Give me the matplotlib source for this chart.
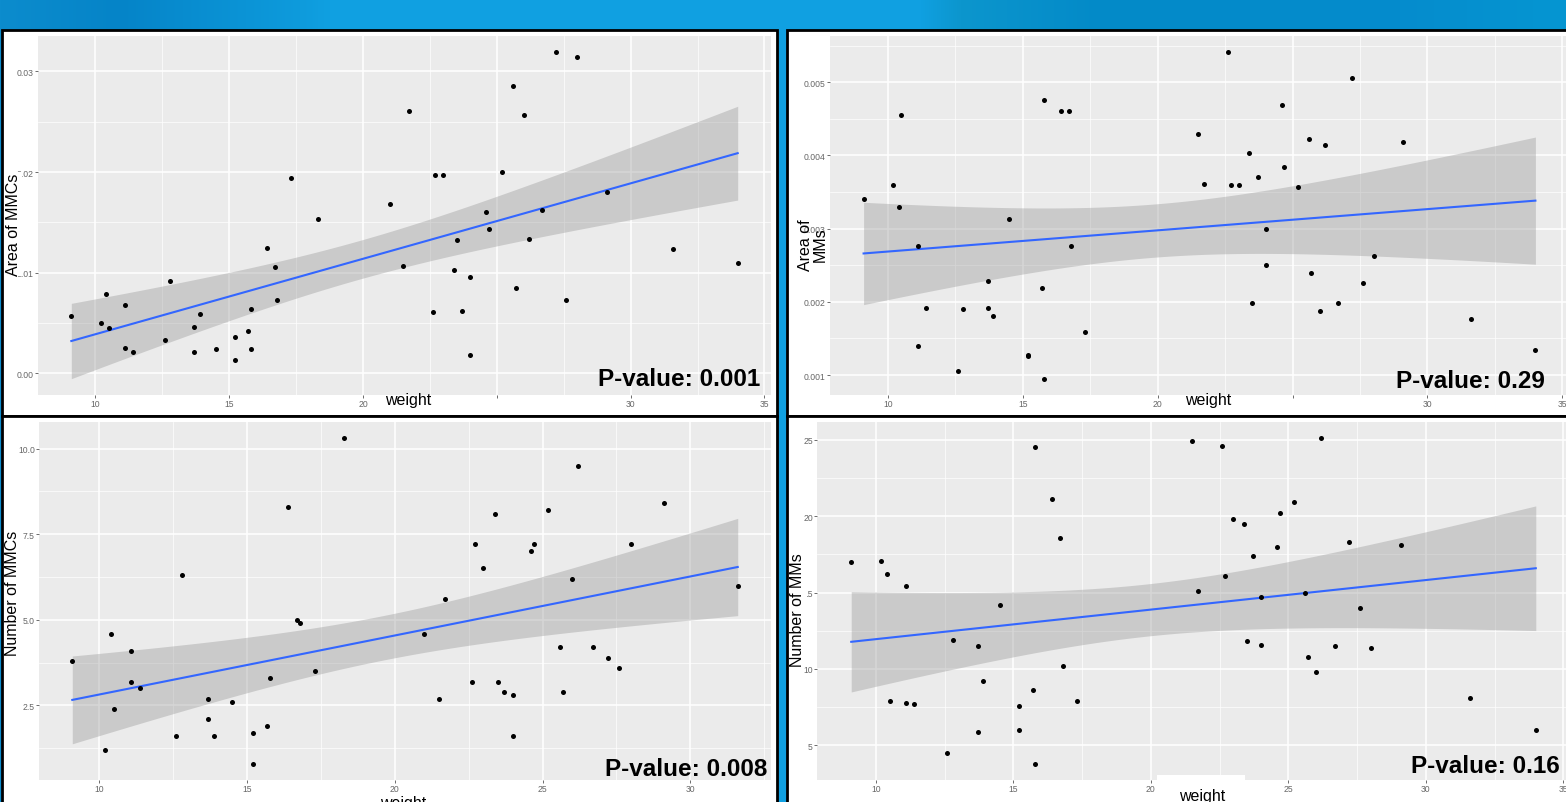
import matplotlib
matplotlib.use("Agg")
import matplotlib.pyplot as plt
from matplotlib.patches import Rectangle
from matplotlib.ticker import MultipleLocator, FormatStrFormatter
import numpy as np

plt.rcParams['font.family'] = ['Liberation Sans', 'DejaVu Sans']

# ---- data ----
weight_area_mmc = [9.1, 10.4, 10.2, 10.5, 11.1, 11.1, 11.4, 12.6, 12.8, 13.7, 13.7, 13.9, 14.5, 15.2, 15.2, 15.7,
                   15.8, 15.8, 16.4, 16.7, 16.8, 17.3, 18.3, 21.0, 21.5, 21.7, 22.6, 22.7, 23.0, 23.4, 23.5, 23.7,
                   24.0, 24.0, 24.6, 24.7, 25.2, 25.6, 25.7, 26.0, 26.2, 26.7, 27.2, 27.6, 28.0, 29.1, 31.6, 34.0]
area_mmc = [0.0057, 0.0079, 0.0050, 0.0045, 0.0068, 0.0025, 0.0021, 0.0033, 0.0092, 0.0046, 0.0021, 0.0059,
            0.0024, 0.0036, 0.0013, 0.0042, 0.0064, 0.0024, 0.0124, 0.0106, 0.0073, 0.0194, 0.0153, 0.0168,
            0.0107, 0.0261, 0.0061, 0.0197, 0.0197, 0.0103, 0.0132, 0.0062, 0.0096, 0.0018, 0.0160, 0.0143,
            0.0200, 0.0286, 0.0085, 0.0257, 0.0133, 0.0162, 0.0319, 0.0073, 0.0314, 0.0180, 0.0123, 0.0110]

weight_area_mm = [9.1, 10.2, 10.4, 10.5, 11.1, 11.1, 11.4, 12.6, 12.8, 13.7, 13.7, 13.9, 14.5, 15.2, 15.2, 15.7,
                  15.8, 15.8, 16.4, 16.7, 16.8, 17.3, 21.5, 21.7, 22.6, 22.7, 23.0, 23.4, 23.5, 23.7, 24.0, 24.0,
                  24.6, 24.7, 25.2, 25.6, 25.7, 26.0, 26.2, 26.7, 27.2, 27.6, 28.0, 29.1, 31.6, 34.0]
area_mm = [0.00341, 0.00360, 0.00330, 0.00455, 0.00277, 0.00139, 0.00191, 0.00105, 0.00190, 0.00229, 0.00191,
           0.00181, 0.00313, 0.00128, 0.00126, 0.00219, 0.00476, 0.00095, 0.00461, 0.00461, 0.00276, 0.00159,
           0.00430, 0.00361, 0.00541, 0.00360, 0.00360, 0.00404, 0.00198, 0.00371, 0.00300, 0.00250, 0.00469,
           0.00384, 0.00357, 0.00422, 0.00240, 0.00188, 0.00414, 0.00198, 0.00506, 0.00226, 0.00262, 0.00418,
           0.00177, 0.00134]

weight_num_mmc = [9.1, 10.2, 10.4, 10.5, 11.1, 11.1, 11.4, 12.6, 12.8, 13.7, 13.7, 13.9, 14.5, 15.2, 15.2, 15.7,
                  15.8, 16.4, 16.7, 16.8, 17.3, 18.3, 21.0, 21.5, 21.7, 22.6, 22.7, 23.0, 23.4, 23.5, 23.7, 24.0,
                  24.0, 24.6, 24.7, 25.2, 25.6, 25.7, 26.0, 26.2, 26.7, 27.2, 27.6, 28.0, 29.1, 31.6]
num_mmc = [3.8, 1.2, 4.6, 2.4, 4.1, 3.2, 3.0, 1.6, 6.3, 2.7, 2.1, 1.6, 2.6, 1.7, 0.8, 1.9, 3.3, 8.3, 5.0, 4.9,
           3.5, 10.3, 4.6, 2.7, 5.6, 3.2, 7.2, 6.5, 8.1, 3.2, 2.9, 2.8, 1.6, 7.0, 7.2, 8.2, 4.2, 2.9, 6.2, 9.5,
           4.2, 3.9, 3.6, 7.2, 8.4, 6.0]

weight_num_mm = [9.1, 10.2, 10.4, 10.5, 11.1, 11.1, 11.4, 12.6, 12.8, 13.7, 13.7, 13.9, 14.5, 15.2, 15.2, 15.7,
                 15.8, 15.8, 16.4, 16.7, 16.8, 17.3, 21.5, 21.7, 22.6, 22.7, 23.0, 23.4, 23.5, 23.7, 24.0, 24.0,
                 24.6, 24.7, 25.2, 25.6, 25.7, 26.0, 26.2, 26.7, 27.2, 27.6, 28.0, 29.1, 31.6, 34.0]
num_mm = [17.0, 17.1, 16.2, 7.9, 15.4, 7.8, 7.7, 4.5, 11.9, 11.5, 5.9, 9.2, 14.2, 7.6, 6.0, 8.6, 24.5, 3.8,
          21.1, 18.6, 10.2, 7.9, 24.9, 15.1, 24.6, 16.1, 19.8, 19.5, 11.8, 17.4, 14.7, 11.6, 18.0, 20.2, 20.9,
          15.0, 10.8, 9.8, 25.1, 11.5, 18.3, 14.0, 11.4, 18.1, 8.1, 6.0]

y_labels = ['Area of MMCs', 'Area of\nMMs', 'Number of MMCs', 'Number of MMs']
p_labels = ['P-value: 0.001', 'P-value: 0.29', 'P-value: 0.008', 'P-value: 0.16']

W, H = 1566, 803
fig = plt.figure(figsize=(W / 100, H / 100), dpi=100)


def frac(x0, y0, x1, y1):
    # pixel box (top-left origin) -> figure fraction rect
    return [x0 / W, 1 - y1 / H, (x1 - x0) / W, (y1 - y0) / H]


def px_rect(x0, y0, x1, y1, fc, ec='none', lw=0, z=-5):
    l, b, w, h = frac(x0, y0, x1, y1)
    fig.add_artist(Rectangle((l, b), w, h, transform=fig.transFigure, facecolor=fc,
                             edgecolor=ec, linewidth=lw, zorder=z))


# blue slide background
bg = fig.add_axes([0, 0, 1, 1], zorder=-20)
anchors_x = [0, 120, 300, 330, 920, 960, 1100, 1400, 1566]
anchors_c = np.array([(12, 140, 205), (5, 132, 200), (14, 155, 220), (16, 160, 225), (16, 160, 225),
                      (12, 150, 205), (3, 138, 200), (5, 140, 205), (5, 150, 210)]) / 255
cols = np.arange(W)
grad = np.stack([np.interp(cols, anchors_x, anchors_c[:, k]) for k in range(3)], axis=-1)
bg.imshow(grad[None, :, :], aspect='auto', extent=[0, 1, 0, 1])
bg.axis('off')

# white panel frames
px_rect(2, 31, 777, 417, 'white', 'black', 2)
px_rect(787, 31, 1572, 417, 'white', 'black', 2)
px_rect(2, 417, 777, 806, 'white', 'black', 2)
px_rect(787, 417, 1572, 806, 'white', 'black', 2)


def t975(df):
    z = 1.959964
    return z + (z ** 3 + z) / (4 * df) + (5 * z ** 5 + 16 * z ** 3 + 3 * z) / (96 * df ** 2)


def smooth_panel(ax, x, y, ystep, yfmt, xstep=5):
    x = np.asarray(x, float)
    y = np.asarray(y, float)
    n = len(x)
    slope, icpt = np.polyfit(x, y, 1)
    resid = y - (icpt + slope * x)
    s = np.sqrt(np.sum(resid ** 2) / (n - 2))
    xs = np.linspace(x.min(), x.max(), 80)
    fit = icpt + slope * xs
    se = s * np.sqrt(1 / n + (xs - x.mean()) ** 2 / np.sum((x - x.mean()) ** 2))
    t = t975(n - 2)
    ax.set_facecolor('#EBEBEB')
    ax.fill_between(xs, fit - t * se, fit + t * se, color='#999999', alpha=0.4, lw=0, zorder=2)
    ax.plot(xs, fit, color='#3366FF', lw=1.5, zorder=3)
    ax.scatter(x, y, s=13, color='black', linewidths=0, zorder=4)
    ax.margins(0.05)
    ax.xaxis.set_major_locator(MultipleLocator(xstep))
    ax.xaxis.set_minor_locator(MultipleLocator(xstep / 2))
    ax.yaxis.set_major_locator(MultipleLocator(ystep))
    ax.yaxis.set_minor_locator(MultipleLocator(ystep / 2))
    ax.xaxis.set_major_formatter(FormatStrFormatter('%d'))
    ax.yaxis.set_major_formatter(FormatStrFormatter(yfmt))
    ax.grid(which='major', color='white', lw=1.1, zorder=0)
    ax.grid(which='minor', color='white', lw=0.5, zorder=0)
    ax.set_axisbelow(True)
    for sp in ax.spines.values():
        sp.set_visible(False)
    ax.tick_params(which='major', length=2, width=0.5, color='#333333', labelsize=6.2,
                   labelcolor='#666666', pad=1)
    ax.tick_params(which='minor', length=0)


ax_tl = fig.add_axes(frac(38, 37, 771, 396))
smooth_panel(ax_tl, weight_area_mmc, area_mmc, 0.01, '%.2f')
ax_tr = fig.add_axes(frac(830, 37, 1569, 396))
smooth_panel(ax_tr, weight_area_mm, area_mm, 0.001, '%.3f')
ax_bl = fig.add_axes(frac(39, 423, 771, 781))
smooth_panel(ax_bl, weight_num_mmc, num_mmc, 2.5, '%.1f')
ax_br = fig.add_axes(frac(817, 423, 1570, 781))
smooth_panel(ax_br, weight_num_mm, num_mm, 5, '%d')

# overlaid y labels (white boxes hide the leading tick digits, as in the slide)
ylab_pos = [(14, 225), (813, 245), (13, 593), (798, 610)]
ylab_pad = [0.3, None, 0.6, 1.1]
for (px, py), lab, pad in zip(ylab_pos, y_labels, ylab_pad):
    box = None if pad is None else dict(facecolor='white', edgecolor='none', pad=pad)
    fig.text(px / W, 1 - py / H, lab, rotation=90, ha='center', va='center', ma='center',
             fontsize=11.5, color='black', zorder=10, linespacing=0.95, bbox=box)

# overlaid "weight" labels
px_rect(378, 401, 505, 414, 'white', z=9)
px_rect(1175, 401, 1300, 414, 'white', z=9)
px_rect(1157, 776, 1245, 806, 'white', z=9)
for px, py in [(408, 405), (1208, 405), (403, 808), (1202, 801)]:
    fig.text(px / W, 1 - py / H, 'weight', ha='center', va='baseline', fontsize=11.5,
             color='black', zorder=10)

# p-value annotations
for (px, py), lab in zip([(760, 386), (1545, 388), (767, 776), (1560, 773)], p_labels):
    fig.text(px / W, 1 - py / H, lab, ha='right', va='baseline', fontsize=17.5,
             fontweight='bold', color='black', zorder=10)

fig.savefig('out.png', dpi=100)
